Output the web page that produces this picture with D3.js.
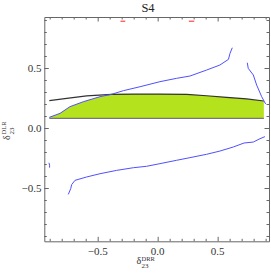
<!DOCTYPE html>
<html>
<head>
<meta charset="utf-8">
<script src="https://cdnjs.cloudflare.com/ajax/libs/d3/7.8.5/d3.min.js"></script>
<style>
  body { margin: 0; background: #fff; }
  svg text { font-family: "Liberation Serif", "DejaVu Serif", serif; }
  .tick-label { font-size: 11px; fill: #333; }
</style>
</head>
<body>
<div id="chart"></div>
<script>

// ---- data ----
let title = 'S4';
let xDomain = [-0.945, 0.928],
    yDomain = [-0.944, 0.925];
let majorTicks = [-0.5, 0.0, 0.5];
let minorTicks = [-0.9, -0.8, -0.7, -0.6, -0.4, -0.3, -0.2, -0.1,
                  0.1, 0.2, 0.3, 0.4, 0.6, 0.7, 0.8, 0.9];

// black boundary curve
let blackX = [-0.903, -0.758, -0.592, -0.384, -0.203, 0.019, 0.242, 0.408, 0.575, 0.742, 0.885];
let blackY = [0.228, 0.247, 0.267, 0.281, 0.283, 0.283, 0.281, 0.269, 0.256, 0.242, 0.225];

// blue contour, upper left branch
let blueAX = [-0.903, -0.814, -0.731, -0.62, -0.481, -0.384, -0.286, -0.147, 0.019, 0.158, 0.269, 0.408, 0.519, 0.59, 0.603, 0.622];
let blueAY = [0.089, 0.122, 0.178, 0.219, 0.261, 0.281, 0.311, 0.344, 0.386, 0.414, 0.433, 0.483, 0.525, 0.572, 0.622, 0.669];

// blue contour, upper right branch
let blueBX = [0.747, 0.755, 0.797, 0.825, 0.867, 0.9];
let blueBY = [0.544, 0.497, 0.442, 0.358, 0.261, 0.2];

// blue contour, lower branch
let blueCX = [-0.745, -0.725, -0.717, -0.689, -0.592, -0.481, -0.342, -0.203, -0.092, 0.019, 0.158, 0.269, 0.408, 0.519, 0.631, 0.72, 0.797, 0.853, 0.894];
let blueCY = [-0.553, -0.506, -0.472, -0.436, -0.408, -0.381, -0.353, -0.331, -0.319, -0.297, -0.269, -0.247, -0.219, -0.192, -0.158, -0.125, -0.117, -0.089, -0.072];

// blue contour, short piece at the left edge
let blueDX = [-0.906, -0.901, -0.901];
let blueDY = [-0.29, -0.31, -0.33];

// red dashes near the top
let redX = [[-0.31, -0.27], [0.26, 0.305]];
let redY = 0.89;

// allowed region: bounded below by a flat level, above by min(blue, black)
let regionBottom = 0.081;
let regionX = [-0.903, 0.885];

// ---- layout ----
let W = 271, H = 277;
let plot = {left: 44.3, top: 17, right: 269, bottom: 241.3};
let serif = '"Liberation Serif", "DejaVu Serif", serif';

let svg = d3.select('#chart').append('svg')
  .attr('width', W)
  .attr('height', H)
  .attr('font-family', serif);

let x = d3.scaleLinear().domain(xDomain).range([plot.left, plot.right]);
let y = d3.scaleLinear().domain(yDomain).range([plot.bottom, plot.top]);

let line = d3.line().x(d => x(d[0])).y(d => y(d[1]));
let zip = (a, b) => a.map((v, i) => [v, b[i]]);

let black = zip(blackX, blackY),
    blueA = zip(blueAX, blueAY);

// region top: blue branch until it meets the black curve, then black curve
let crossX = -0.384;
let regionTop = blueA.filter(d => d[0] <= crossX)
  .concat(black.filter(d => d[0] > crossX));
let region = regionTop.concat([[regionX[1], regionBottom], [regionX[0], regionBottom]]);

svg.append('path')
  .attr('d', line(region) + 'Z')
  .attr('fill', '#b4e21c');

svg.append('path')
  .attr('d', line([[regionX[0], regionBottom], [regionX[1], regionBottom]]))
  .attr('stroke', '#777')
  .attr('stroke-width', 1.2)
  .attr('fill', 'none');

svg.append('path')
  .attr('d', line(black))
  .attr('stroke', '#333')
  .attr('stroke-width', 1.2)
  .attr('fill', 'none');

[blueA, zip(blueBX, blueBY), zip(blueCX, blueCY), zip(blueDX, blueDY)].forEach(pts => {
  svg.append('path')
    .attr('d', line(pts))
    .attr('stroke', '#5050ff')
    .attr('stroke-width', 1)
    .attr('fill', 'none');
});

redX.forEach(r => {
  svg.append('path')
    .attr('d', line([[r[0], redY], [r[1], redY]]))
    .attr('stroke', '#ff2020')
    .attr('stroke-width', 1)
    .attr('fill', 'none');
});

// ---- frame with inward ticks ----
let frameColor = '#666';
let axes = [
  {axis: d3.axisBottom(x), tr: 'translate(0,' + plot.bottom + ')'},
  {axis: d3.axisTop(x), tr: 'translate(0,' + plot.top + ')'},
  {axis: d3.axisLeft(y), tr: 'translate(' + plot.left + ',0)'},
  {axis: d3.axisRight(y), tr: 'translate(' + plot.right + ',0)'}
];

axes.forEach(a => {
  // minor ticks
  svg.append('g')
    .attr('transform', a.tr)
    .call(a.axis.tickValues(minorTicks).tickSize(-2.5).tickSizeOuter(0).tickFormat(''))
    .call(g => g.select('.domain').remove())
    .call(g => g.selectAll('line').attr('stroke', frameColor));
  // major ticks
  svg.append('g')
    .attr('transform', a.tr)
    .call(a.axis.tickValues(majorTicks).tickSize(-4.5).tickSizeOuter(0).tickFormat(''))
    .call(g => g.select('.domain').attr('stroke', frameColor))
    .call(g => g.selectAll('line').attr('stroke', frameColor));
});

let fmt = d => (d < 0 ? '\u2212' : '') + Math.abs(d).toFixed(1);

svg.append('g').selectAll('text')
  .data(majorTicks)
  .join('text')
    .attr('class', 'tick-label')
    .attr('x', d => x(d))
    .attr('y', 254.5)
    .attr('text-anchor', 'middle')
    .text(fmt);

svg.append('g').selectAll('text')
  .data(majorTicks)
  .join('text')
    .attr('class', 'tick-label')
    .attr('x', 41.5)
    .attr('y', d => y(d) + 3.8)
    .attr('text-anchor', 'end')
    .text(fmt);

// ---- title and axis labels ----
svg.append('text')
  .attr('x', 148)
  .attr('y', 11.5)
  .attr('text-anchor', 'middle')
  .style('font-size', '12.5px')
  .attr('fill', '#222')
  .text(title);

let xl = svg.append('g').attr('fill', '#333');
xl.append('text').attr('x', 136.5).attr('y', 264).style('font-size', '10px').text('\u03b4');
xl.append('text').attr('x', 141.5).attr('y', 261).style('font-size', '6.5px').text('DRR');
xl.append('text').attr('x', 141.5).attr('y', 267.5).style('font-size', '7px').text('23');

let yl = svg.append('g')
  .attr('fill', '#333')
  .attr('transform', 'translate(10,128) rotate(-90)');
yl.append('text').attr('x', -12).attr('y', 0).style('font-size', '10px').text('\u03b4');
yl.append('text').attr('x', -6.5).attr('y', 3.5).style('font-size', '7px').text('23');
yl.append('text').attr('x', -6.5).attr('y', -4).style('font-size', '6.5px').text('DLR');

</script>
</body>
</html>
